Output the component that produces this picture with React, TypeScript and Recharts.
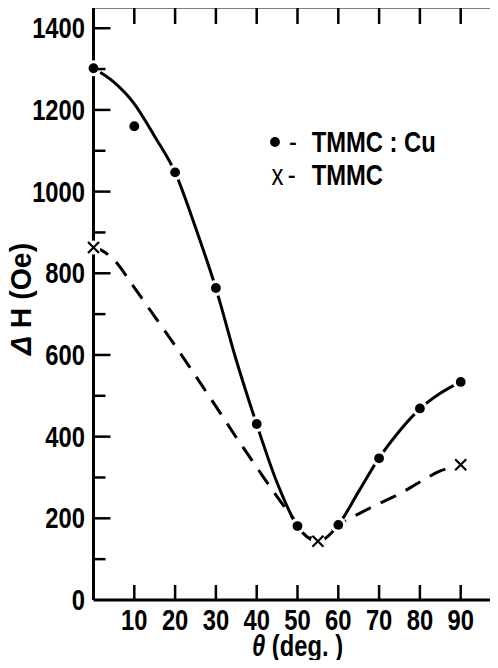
import React from 'react'
import { ComposedChart, Line, Scatter, XAxis, YAxis, Legend } from 'recharts'

// smooth curves
const THETA_CURVE = [0, 5, 10, 15, 20, 25, 30, 35, 40, 45, 50, 55, 60, 65, 70, 75, 80, 85, 90]
const CU_CURVE = [1302, 1268, 1215, 1135, 1047, 912, 763, 587, 430, 287, 181, 144, 184, 266, 348, 414, 468, 506, 534]
const TMMC_CURVE = [867, 833, 765, 694, 623, 549, 474, 398, 325, 253, 188, 144, 183, 211, 236, 260, 289, 316, 330]

// measured points
const CU_THETA = [0, 10, 20, 30, 40, 50, 60, 70, 80, 90]
const CU_DH = [1302, 1160, 1047, 764, 431, 181, 184, 347, 469, 534]
const TMMC_THETA = [0, 55, 90]
const TMMC_DH = [863, 144, 331]

const THETA_TICKS = [10, 20, 30, 40, 50, 60, 70, 80, 90]
const DH_TICKS = [0, 100, 200, 300, 400, 500, 600, 700, 800, 900, 1000, 1100, 1200, 1300, 1400]

const FONT = '"Liberation Sans", Arial, sans-serif'
const FS = 29
const SX = 0.82 // the original lettering is a condensed face
const INK = '#000'

const curveData = THETA_CURVE.map((theta, i) => ({ theta, cu: CU_CURVE[i], tmmc: TMMC_CURVE[i] }))
const cuPoints = CU_THETA.map((theta, i) => ({ theta, dh: CU_DH[i] }))
const tmmcPoints = TMMC_THETA.map((theta, i) => ({ theta, dh: TMMC_DH[i] }))

function Narrow({ x, y, anchor = 'start', bold = true, rotate = 0, sx = SX, children }: any) {
  return (
    <text
      transform={`translate(${x},${y}) rotate(${rotate}) scale(${sx},1)`}
      textAnchor={anchor}
      fontFamily={FONT}
      fontWeight={bold ? 'bold' : 'normal'}
      fontSize={FS}
      fill={INK}
    >
      {children}
    </text>
  )
}

function LeftTick({ x, y, payload }: any) {
  const v = payload.value
  const major = v % 200 === 0
  return (
    <g>
      {v > 0 && <line x1={x} x2={x + (major ? 17 : 12)} y1={y} y2={y} stroke={INK} strokeWidth={2.5} />}
      {major && (
        <Narrow x={x - 8.5} y={y + 10} anchor="end">
          {v}
        </Narrow>
      )}
    </g>
  )
}

function RightTick({ x, y, payload }: any) {
  const v = payload.value
  if (v === 0) return <g />
  const major = v % 200 === 0
  return <line x1={x} x2={x - (major ? 16.5 : 12.5)} y1={y} y2={y} stroke={INK} strokeWidth={2.5} />
}

function BottomTick({ x, y, payload }: any) {
  return (
    <g>
      <line x1={x} x2={x} y1={y} y2={y - 15} stroke={INK} strokeWidth={2.5} />
      <Narrow x={x} y={y + 30} anchor="middle">
        {payload.value}
      </Narrow>
    </g>
  )
}

function TopTick({ x, y }: any) {
  return <line x1={x} x2={x} y1={y} y2={y + 17} stroke={INK} strokeWidth={2.5} />
}

function XTitle({ viewBox }: any) {
  const { x, y, width } = viewBox
  return (
    <Narrow x={x + width / 2} y={y + 56} anchor="middle">
      <tspan fontStyle="italic">θ</tspan> (deg. )
    </Narrow>
  )
}

function YTitle({ viewBox }: any) {
  const { y, height } = viewBox
  return (
    <Narrow x={31} y={y + height / 2 - 4.5} anchor="middle" rotate={-90} sx={0.98}>
      <tspan fontStyle="italic">Δ</tspan> H (Oe)
    </Narrow>
  )
}

function Dot({ cx, cy }: any) {
  return (
    <g>
      <circle cx={cx} cy={cy} r={8} fill="#fff" />
      <circle cx={cx} cy={cy} r={4.9} fill={INK} />
    </g>
  )
}

function Cross({ cx, cy }: any) {
  const s = 5.5
  return (
    <g>
      <circle cx={cx} cy={cy} r={7} fill="#fff" />
      <path d={`M${cx - s},${cy - s}L${cx + s},${cy + s}M${cx - s},${cy + s}L${cx + s},${cy - s}`} stroke={INK} strokeWidth={2.2} />
    </g>
  )
}

function LegendBox() {
  return (
    <svg width={220} height={70} style={{ display: 'block' }}>
      <circle cx={10} cy={17} r={4.9} fill={INK} />
      <Narrow x={28} y={27} anchor="middle" bold={false}>-</Narrow>
      <Narrow x={46.7} y={27}>TMMC : Cu</Narrow>
      <Narrow x={12.5} y={60} anchor="middle" bold={false}>x</Narrow>
      <Narrow x={26.7} y={60} anchor="middle" bold={false}>-</Narrow>
      <Narrow x={46.7} y={60}>TMMC</Narrow>
    </svg>
  )
}

export default function App() {
  return (
    <div style={{ margin: -8, width: 498, height: 668, overflow: 'hidden', position: 'relative', background: '#fff' }}>
      <ComposedChart width={520} height={668} data={curveData} margin={{ top: 0, right: 0.5, bottom: 8, left: 0 }}>
        <XAxis
          xAxisId="b"
          type="number"
          dataKey="theta"
          domain={[0, 100]}
          ticks={THETA_TICKS}
          interval={0}
          height={60}
          tickSize={0}
          tickMargin={0}
          tickLine={false}
          axisLine={{ stroke: INK, strokeWidth: 3 }}
          tick={(p: any) => <BottomTick {...p} />}
          label={<XTitle />}
        />
        <XAxis
          xAxisId="t"
          orientation="top"
          type="number"
          dataKey="theta"
          domain={[0, 100]}
          ticks={THETA_TICKS}
          interval={0}
          height={7}
          tickSize={0}
          tickMargin={0}
          tickLine={false}
          axisLine={{ stroke: INK, strokeWidth: 3 }}
          tick={(p: any) => <TopTick {...p} />}
        />
        <YAxis
          yAxisId="l"
          type="number"
          domain={[0, 1452]}
          ticks={DH_TICKS}
          interval={0}
          width={93.5}
          tickSize={0}
          tickMargin={0}
          tickLine={false}
          axisLine={{ stroke: INK, strokeWidth: 3 }}
          tick={(p: any) => <LeftTick {...p} />}
          label={<YTitle />}
        />
        <YAxis
          yAxisId="r"
          orientation="right"
          type="number"
          domain={[0, 1452]}
          ticks={DH_TICKS}
          interval={0}
          width={18}
          tickSize={0}
          tickMargin={0}
          tickLine={false}
          axisLine={{ stroke: INK, strokeWidth: 3 }}
          tick={(p: any) => <RightTick {...p} />}
        />
        <Legend
          layout="horizontal"
          verticalAlign="middle"
          align="center"
          content={<LegendBox />}
          wrapperStyle={{ position: 'absolute', left: 265, top: 125, width: 220, height: 70 }}
        />
        <Line
          xAxisId="b"
          yAxisId="l"
          dataKey="tmmc"
          type="monotone"
          stroke={INK}
          strokeWidth={3}
          strokeDasharray="17 11"
          dot={false}
          activeDot={false}
          isAnimationActive={false}
        />
        <Line
          xAxisId="b"
          yAxisId="l"
          dataKey="cu"
          type="monotone"
          stroke={INK}
          strokeWidth={3}
          dot={false}
          activeDot={false}
          isAnimationActive={false}
        />
        <Scatter xAxisId="b" yAxisId="l" data={cuPoints} dataKey="dh" shape={<Dot />} isAnimationActive={false} />
        <Scatter xAxisId="b" yAxisId="l" data={tmmcPoints} dataKey="dh" shape={<Cross />} isAnimationActive={false} />
      </ComposedChart>
    </div>
  )
}
